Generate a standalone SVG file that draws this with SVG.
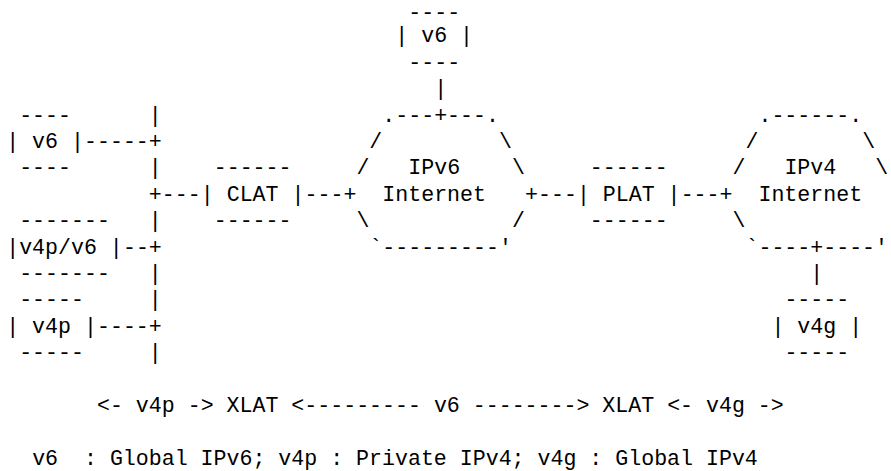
<svg xmlns="http://www.w3.org/2000/svg" width="891" height="471" viewBox="0 0 891 471">
<style>
text { font-family: "Liberation Mono", "DejaVu Sans Mono", monospace; font-size: 21.6px; fill: #000; white-space: pre; }
</style>
<rect x="0" y="0" width="891" height="471" fill="#fff"/>
<g id="connectors">
<text x="434.21" y="95.2">|</text>
<text x="148.87" y="121.6">|</text>
<text x="84.02" y="148">-----+</text>
<text x="148.87" y="174.4">|</text>
<text x="148.87" y="200.8">+---</text>
<text x="304.51" y="200.8">---+</text>
<text x="525.0" y="200.8">+---</text>
<text x="680.64" y="200.8">---+</text>
<text x="148.87" y="227.2">|</text>
<text x="122.93" y="253.6">--+</text>
<text x="148.87" y="280">|</text>
<text x="810.34" y="280">|</text>
<text x="148.87" y="306.4">|</text>
<text x="96.99" y="332.8">----+</text>
<text x="148.87" y="359.2">|</text>
</g>
<g id="node-v6-top">
<text x="408.27" y="18.5">----</text>
<text x="395.3" y="42.4">| v6 |</text>
<text x="408.27" y="68.8">----</text>
</g>
<g id="node-v6-left">
<text x="19.17" y="121.6">----</text>
<text x="6.2" y="148">| v6 |</text>
<text x="19.17" y="174.4">----</text>
</g>
<g id="node-v4p-v6">
<text x="19.17" y="227.2">-------</text>
<text x="6.2" y="253.6">|v4p/v6 |</text>
<text x="19.17" y="280">-------</text>
</g>
<g id="node-v4p">
<text x="19.17" y="306.4">-----</text>
<text x="6.2" y="332.8">| v4p |</text>
<text x="19.17" y="359.2">-----</text>
</g>
<g id="node-clat">
<text x="213.72" y="174.4">------</text>
<text x="200.75" y="200.8">| CLAT |</text>
<text x="213.72" y="227.2">------</text>
</g>
<g id="node-ipv6-internet">
<text x="382.33" y="121.6">.---+---.</text>
<text x="369.36" y="148">/</text>
<text x="499.06" y="148">\</text>
<text x="356.39" y="174.4">/</text>
<text x="408.27" y="174.4">IPv6</text>
<text x="512.03" y="174.4">\</text>
<text x="382.33" y="200.8">Internet</text>
<text x="356.39" y="227.2">\</text>
<text x="512.03" y="227.2">/</text>
<text x="369.36" y="253.6">`---------'</text>
</g>
<g id="node-plat">
<text x="589.85" y="174.4">------</text>
<text x="576.88" y="200.8">| PLAT |</text>
<text x="589.85" y="227.2">------</text>
</g>
<g id="node-ipv4-internet">
<text x="758.46" y="121.6">.------.</text>
<text x="745.49" y="148">/</text>
<text x="862.22" y="148">\</text>
<text x="732.52" y="174.4">/</text>
<text x="784.4" y="174.4">IPv4</text>
<text x="875.19" y="174.4">\</text>
<text x="758.46" y="200.8">Internet</text>
<text x="732.52" y="227.2">\</text>
<text x="745.49" y="253.6">`----+----'</text>
</g>
<g id="node-v4g">
<text x="784.4" y="306.4">-----</text>
<text x="771.43" y="332.8">| v4g |</text>
<text x="784.4" y="359.2">-----</text>
</g>
<g id="legend">
<text x="96.99" y="412" xml:space="preserve">&lt;- v4p -&gt; XLAT &lt;--------- v6 --------&gt; XLAT &lt;- v4g -&gt;</text>
<text x="32.14" y="464.8" xml:space="preserve">v6  : Global IPv6; v4p : Private IPv4; v4g : Global IPv4</text>
</g>
</svg>
